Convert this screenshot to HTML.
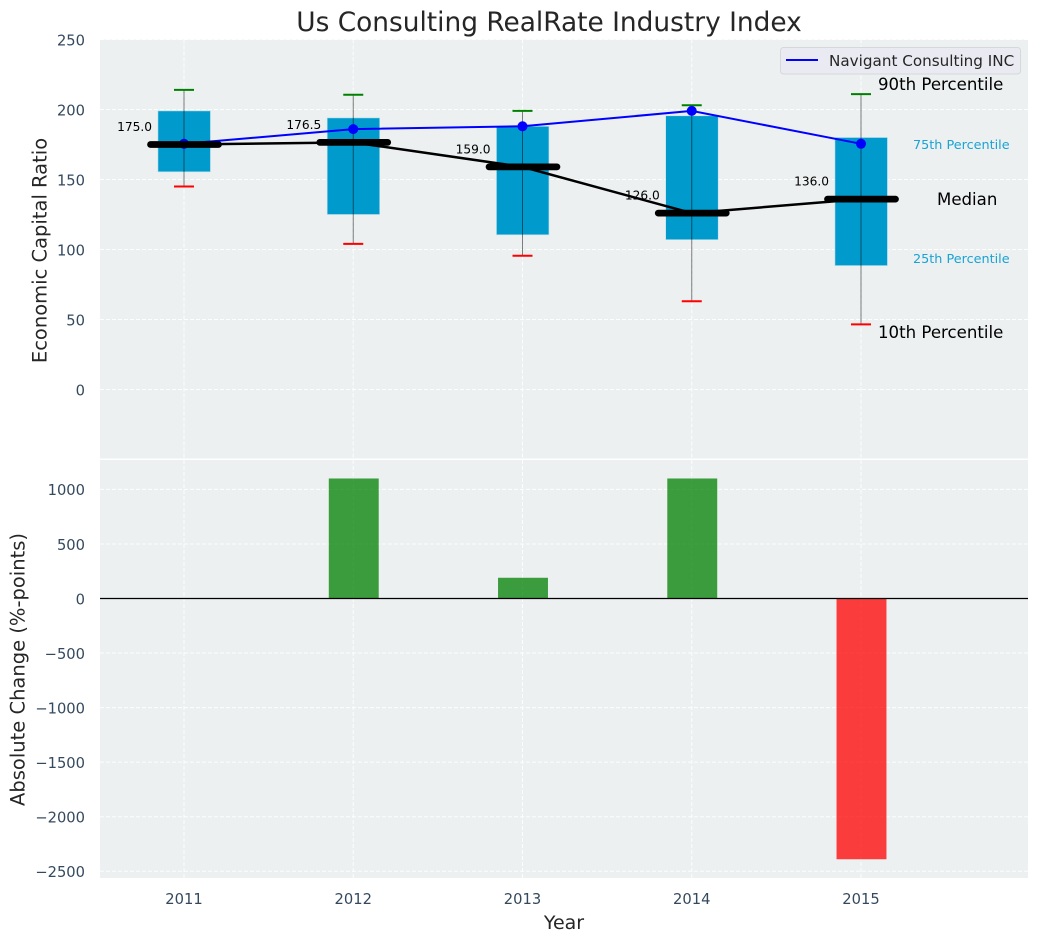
<!DOCTYPE html>
<html>
<head>
<meta charset="utf-8">
<title>Us Consulting RealRate Industry Index</title>
<style>
html,body{margin:0;padding:0;background:#fff;}
svg{display:block;}
text{font-family:"DejaVu Sans","Liberation Sans",sans-serif;}
</style>
</head>
<body>
<svg id="chart" xmlns="http://www.w3.org/2000/svg" width="1039" height="942" viewBox="0 0 1039 942">
<rect x="100" y="39.5" width="928" height="419" fill="#ecf0f1"/>
<rect x="100" y="460" width="928" height="418" fill="#ecf0f1"/>
<g id="grid"></g>
<g id="marks"></g>
<g id="labels"></g>
<text x="549" y="31" text-anchor="middle" font-size="26.4" fill="#262626">Us Consulting RealRate Industry Index</text>
<text transform="translate(46.5 250.5) rotate(-90)" text-anchor="middle" font-size="19.5" fill="#262626">Economic Capital Ratio</text>
<text transform="translate(24.5 669.5) rotate(-90)" text-anchor="middle" font-size="19.5" fill="#262626">Absolute Change (%-points)</text>
<text x="564" y="929" text-anchor="middle" font-size="19" fill="#262626">Year</text>
<g>
<rect x="780.5" y="47.5" width="240" height="26.5" rx="3" fill="#eaeaf2" stroke="#d5d7da" stroke-width="1"/>
<line x1="786" y1="60" x2="818" y2="60" stroke="#0000ff" stroke-width="2"/>
<text x="829" y="66" font-size="15.2" fill="#262626">Navigant Consulting INC</text>
</g>
<text x="878" y="90" font-size="16.6" fill="#000">90th Percentile</text>
<text x="913" y="149" font-size="12.8" fill="#1aa3d3">75th Percentile</text>
<text x="937" y="205" font-size="16.6" fill="#000">Median</text>
<text x="913" y="263" font-size="12.8" fill="#1aa3d3">25th Percentile</text>
<text x="878" y="338" font-size="16.6" fill="#000">10th Percentile</text>
</svg>
<script>
const years = [2011, 2012, 2013, 2014, 2015];
const q75 = [199, 194, 188, 195.5, 180];
const q25 = [155.5, 125, 110.5, 107, 88.5];
const p90 = [214, 210.5, 199, 203, 211];
const p10 = [145, 104, 95.5, 63, 46.5];
const medians = [175, 176.5, 159, 126, 136];
const company = [175.5, 186, 188, 199, 175.5];
const changes = [0, 1100, 190, 1100, -2390];
const topTicks = [0, 50, 100, 150, 200, 250];
const bottomTicks = [-2500, -2000, -1500, -1000, -500, 0, 500, 1000];

const NS = 'http://www.w3.org/2000/svg';
const xScale = v => 184 + (v - 2011) * 169.25;
const yTop = v => 389.5 - v * 1.4;
const yBottom = v => 598.5 - v * 0.1091;
const gridG = document.getElementById('grid');
const marksG = document.getElementById('marks');
const labelsG = document.getElementById('labels');

function make(tag, parent, attrs, txt) {
  const e = document.createElementNS(NS, tag);
  for (const k in attrs) e.setAttribute(k, attrs[k]);
  if (txt !== undefined) e.textContent = txt;
  parent.appendChild(e);
  return e;
}
const gridStyle = {stroke: '#ffffff', 'stroke-width': 1, 'stroke-dasharray': '4 2', opacity: 0.9, fill: 'none'};

topTicks.forEach(t => {
  const g = make('line', gridG, Object.assign({x1: 100, x2: 1028, y1: yTop(t), y2: yTop(t)}, gridStyle));
  
  
  const l = make('text', labelsG, {x: 85, y: yTop(t) + 5.8, 'text-anchor': 'end', 'font-size': 14.7, fill: '#34495e'}, String(t));
  
  
});
bottomTicks.forEach(t => {
  const g = make('line', gridG, Object.assign({x1: 100, x2: 1028, y1: yBottom(t), y2: yBottom(t)}, gridStyle));
  
  
  const l = make('text', labelsG, {x: 85, y: yBottom(t) + 5.8, 'text-anchor': 'end', 'font-size': 14.7, fill: '#34495e'}, String(t).replace('-', '\u2212'));
  
  
});
years.forEach(y => {
  const a = make('line', gridG, Object.assign({x1: xScale(y), x2: xScale(y), y1: 39.5, y2: 458.5}, gridStyle));
  
  
  const b = make('line', gridG, Object.assign({x1: xScale(y), x2: xScale(y), y1: 460, y2: 878}, gridStyle));
  
  
  const l = make('text', labelsG, {x: xScale(y), y: 904, 'text-anchor': 'middle', 'font-size': 14.7, fill: '#34495e'}, String(y));
  
  
});

const BOX_W = 52.5;
const CAP_W = 20;
const MED_HALF = 34;
const BAR_W = 0.295 * 169.25;

years.forEach((y, i) => {
  const x = xScale(y);
  const box = make('rect', marksG, {x: x - BOX_W / 2 + 0.2, y: yTop(q75[i]), width: BOX_W, height: yTop(q25[i]) - yTop(q75[i]), fill: '#009bcc', stroke: '#bfe0ec', 'stroke-width': 0.6});
  
  
});

const medianPoints = years.map((y, i) => xScale(y) + ',' + yTop(medians[i])).join(' ');
const medLine = make('polyline', marksG, {points: medianPoints, fill: 'none', stroke: '#000', 'stroke-width': 2.5});



years.forEach((y, i) => {
  const x = xScale(y);
  const wh = make('line', marksG, {x1: x, x2: x, y1: yTop(p90[i]), y2: yTop(p10[i]), stroke: '#000', 'stroke-opacity': 0.5, 'stroke-width': 1});
  
  
  const hi = make('line', marksG, {x1: x - CAP_W / 2, x2: x + CAP_W / 2, y1: yTop(p90[i]), y2: yTop(p90[i]), stroke: '#008000', 'stroke-width': 2});
  
  
  const lo = make('line', marksG, {x1: x - CAP_W / 2, x2: x + CAP_W / 2, y1: yTop(p10[i]), y2: yTop(p10[i]), stroke: '#ff0000', 'stroke-width': 2});
  
  
});

const companyPoints = years.map((y, i) => xScale(y) + ',' + yTop(company[i])).join(' ');
const compLine = make('polyline', marksG, {points: companyPoints, fill: 'none', stroke: '#0000ff', 'stroke-width': 2});



years.forEach((y, i) => {
  const x = xScale(y);
  const dot = make('circle', marksG, {cx: x, cy: yTop(company[i]), r: 5, fill: '#0000ff'});
  
  
  const med = make('line', marksG, {x1: x - MED_HALF + 0.5, x2: x + MED_HALF + 0.5, y1: yTop(medians[i]), y2: yTop(medians[i]), stroke: '#000', 'stroke-width': 6.7, 'stroke-linecap': 'round'});
  
  
  const lab = make('text', marksG, {x: x - 32, y: yTop(medians[i]) - 13.5, 'text-anchor': 'end', 'font-size': 12.2, fill: '#000'}, medians[i].toFixed(1));
  
  
});

years.forEach((y, i) => {
  if (changes[i] === 0) return;
  const x = xScale(y);
  const top = Math.min(yBottom(changes[i]), yBottom(0));
  const h = Math.abs(yBottom(changes[i]) - yBottom(0));
  const bar = make('rect', marksG, {x: x - BAR_W / 2 + 0.5, y: top, width: BAR_W, height: h, fill: changes[i] > 0 ? '#008000' : '#ff0000', 'fill-opacity': 0.75});
  
  
});

const zero = make('line', marksG, {x1: 100, x2: 1028, y1: yBottom(0), y2: yBottom(0), stroke: '#000', 'stroke-width': 1.2});


</script>
</body>
</html>
